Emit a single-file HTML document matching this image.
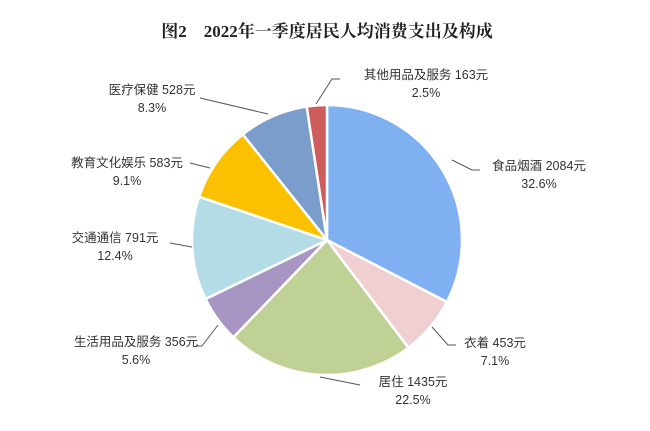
<!DOCTYPE html>
<html><head><meta charset="utf-8"><style>
body{margin:0;background:#fff;}
svg text{font-family:"Liberation Sans","Noto Sans CJK SC",sans-serif;font-size:12.5px;fill:#333;}
</style></head><body>
<svg width="650" height="426" viewBox="0 0 650 426" xmlns="http://www.w3.org/2000/svg">
<text x="327" y="37" text-anchor="middle" style="font-family:'Liberation Serif','Noto Serif CJK SC',serif;font-size:17px;font-weight:bold;fill:#222">图2　2022年一季度居民人均消费支出及构成</text>
<g stroke="#fff" stroke-width="2.5" stroke-linejoin="round">
<path d="M327,240 L327,105 A135,135 0 0 1 446.9,302 Z" fill="#7fb0f2"/>
<path d="M327,240 L446.9,302 A135,135 0 0 1 408.4,347.7 Z" fill="#efcfd0"/>
<path d="M327,240 L408.4,347.7 A135,135 0 0 1 233.4,337.3 Z" fill="#c0d195"/>
<path d="M327,240 L233.4,337.3 A135,135 0 0 1 205.6,299 Z" fill="#a796c4"/>
<path d="M327,240 L205.6,299 A135,135 0 0 1 199.1,196.7 Z" fill="#b4dce6"/>
<path d="M327,240 L199.1,196.7 A135,135 0 0 1 242.9,134.4 Z" fill="#fbc100"/>
<path d="M327,240 L242.9,134.4 A135,135 0 0 1 306.7,106.5 Z" fill="#7a9dcb"/>
<path d="M327,240 L306.7,106.5 A135,135 0 0 1 327,105 Z" fill="#cf5c5c"/>
</g>
<g stroke="#555" stroke-width="1" fill="none">
<polyline points="316,104 332,79 340,79"/>
<polyline points="452,160 472,170 480,170"/>
<polyline points="432,327 448,345 456,345"/>
<polyline points="320,377 360,385"/>
<polyline points="218,325 202,346 196,346"/>
<polyline points="192,247 170,243"/>
<polyline points="210,168 190,163"/>
<polyline points="268,114 200,98"/>
</g>
<text x="426" y="79" text-anchor="middle">其他用品及服务 163元</text>
<text x="426" y="97" text-anchor="middle">2.5%</text>
<text x="539" y="170" text-anchor="middle">食品烟酒 2084元</text>
<text x="539" y="188" text-anchor="middle">32.6%</text>
<text x="495" y="347" text-anchor="middle">衣着 453元</text>
<text x="495" y="365" text-anchor="middle">7.1%</text>
<text x="413" y="386" text-anchor="middle">居住 1435元</text>
<text x="413" y="404" text-anchor="middle">22.5%</text>
<text x="136" y="346" text-anchor="middle">生活用品及服务 356元</text>
<text x="136" y="364" text-anchor="middle">5.6%</text>
<text x="115" y="242" text-anchor="middle">交通通信 791元</text>
<text x="115" y="260" text-anchor="middle">12.4%</text>
<text x="127" y="167" text-anchor="middle">教育文化娱乐 583元</text>
<text x="127" y="185" text-anchor="middle">9.1%</text>
<text x="152" y="94" text-anchor="middle">医疗保健 528元</text>
<text x="152" y="112" text-anchor="middle">8.3%</text>
</svg>
</body></html>
